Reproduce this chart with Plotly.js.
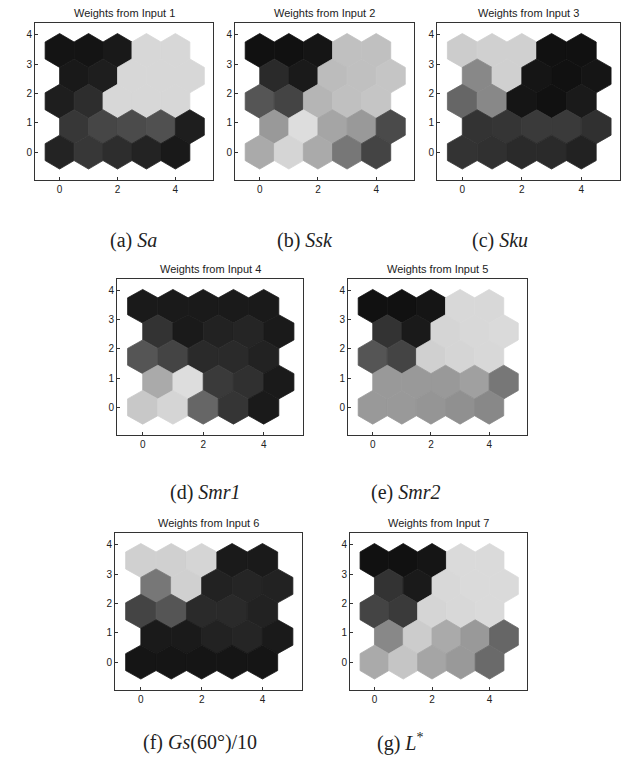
<!DOCTYPE html>
<html><head><meta charset="utf-8">
<script src="https://cdn.plot.ly/plotly-3.0.1.min.js"></script>
<style>body{margin:0;background:#fff}#chart{width:634px;height:758px}</style>
</head><body><div id="chart"></div>
<script>
// Grey level of each SOM neuron (0 = black, 255 = white); rows listed top (row 4) to bottom (row 0)
const panelTitles = ["Weights from Input 1","Weights from Input 2","Weights from Input 3","Weights from Input 4","Weights from Input 5","Weights from Input 6","Weights from Input 7"];
const captions = ["(a) <i>Sa</i>","(b) <i>Ssk</i>","(c) <i>Sku</i>","(d) <i>Smr1</i>","(e) <i>Smr2</i>","(f) <i>Gs</i>(60°)/10","(g) <i>L</i><sup>*</sup>"];
const input1 = [
  [20, 20, 25, 215, 215],
  [25, 30, 215, 215, 215],
  [30, 45, 215, 215, 215],
  [55, 70, 75, 80, 30],
  [35, 55, 45, 35, 25]];
const input2 = [
  [17, 17, 21, 192, 192],
  [42, 26, 188, 192, 197],
  [85, 68, 181, 192, 197],
  [153, 221, 165, 153, 74],
  [170, 213, 170, 119, 68]];
const input3 = [
  [204, 208, 208, 17, 17],
  [136, 208, 21, 17, 21],
  [102, 136, 21, 17, 26],
  [51, 53, 58, 58, 48],
  [51, 48, 42, 42, 34]];
const input4 = [
  [26, 26, 26, 26, 26],
  [51, 26, 34, 37, 26],
  [85, 68, 42, 42, 34],
  [170, 221, 58, 48, 26],
  [200, 213, 102, 53, 26]];
const input5 = [
  [17, 17, 21, 216, 216],
  [51, 26, 213, 216, 218],
  [85, 68, 208, 213, 216],
  [153, 153, 153, 160, 119],
  [153, 153, 149, 144, 136]];
const input6 = [
  [208, 208, 213, 26, 26],
  [119, 208, 34, 37, 34],
  [68, 85, 42, 42, 34],
  [26, 26, 34, 37, 26],
  [21, 21, 21, 21, 21]];
const input7 = [
  [17, 17, 21, 218, 218],
  [51, 26, 216, 218, 218],
  [68, 58, 213, 216, 218],
  [136, 204, 170, 153, 102],
  [170, 197, 165, 153, 106]];
const planes = [input1, input2, input3, input4, input5, input6, input7];
const xTicks = [0, 2, 4];
const yTicks = [-1, 0, 1, 2, 3, 4];

// layout: axes boxes in pixels [left, right, top, bottom]
const W = 634, H = 758;
const boxes = [
  [35, 213, 23, 180],
  [235, 414, 23, 180],
  [437, 620, 23, 180],
  [117, 303, 279, 435],
  [348, 527, 279, 435],
  [115, 302, 533, 690],
  [350, 527, 533, 690]];
const capPos = [[133, 240], [305, 240], [500, 240], [205, 492], [405, 492], [200, 742], [400, 742]];

const traces = [];
const layout = {
  width: W, height: H, margin: {l: 0, r: 0, t: 0, b: 0},
  paper_bgcolor: '#fff', plot_bgcolor: '#fff', showlegend: false,
  annotations: [], font: {family: 'Liberation Sans, Arial, sans-serif', color: '#222'}
};
const r = 1 / Math.sqrt(3);
planes.forEach((plane, p) => {
  const ax = p === 0 ? '' : String(p + 1);
  const nRows = plane.length;
  plane.forEach((row, ri) => {
    const j = nRows - 1 - ri;           // grid row index from bottom
    const cy = j * Math.sqrt(3) / 2;
    row.forEach((g, i) => {
      const cx = i + (j % 2 ? 0.5 : 0);
      const xs = [], ys = [];
      for (let k = 0; k <= 6; k++) {
        const a = (30 + 60 * k) * Math.PI / 180;
        xs.push(cx + r * Math.cos(a)); ys.push(cy + r * Math.sin(a));
      }
      const c = `rgb(${g},${g},${g})`;
      traces.push({type: 'scatter', mode: 'lines', x: xs, y: ys, fill: 'toself',
        fillcolor: c, line: {color: c, width: 0.8},
        hoverinfo: 'skip', xaxis: 'x' + ax, yaxis: 'y' + ax});
    });
  });
  const b = boxes[p];
  const axStyle = {showgrid: false, zeroline: false, showline: true, mirror: true,
    linecolor: '#333', linewidth: 1, ticks: 'inside', ticklen: 3, tickcolor: '#333',
    tickfont: {size: 10, color: '#222'}, fixedrange: true};
  layout['xaxis' + ax] = Object.assign({}, axStyle, {
    domain: [b[0] / W, b[1] / W], range: [-0.85, 5.3], tickvals: xTicks,
    anchor: 'y' + ax});
  layout['yaxis' + ax] = Object.assign({}, axStyle, {
    domain: [1 - b[3] / H, 1 - b[2] / H], range: [-0.95, 4.4], tickvals: yTicks,
    anchor: 'x' + ax});
  layout.annotations.push({text: panelTitles[p], xref: 'paper', yref: 'paper',
    x: (b[0] + b[1]) / 2 / W, y: 1 - (b[2] - 2) / H, xanchor: 'center', yanchor: 'bottom',
    showarrow: false, font: {size: 11, color: '#222'}});
  layout.annotations.push({text: captions[p], xref: 'paper', yref: 'paper',
    x: capPos[p][0] / W, y: 1 - capPos[p][1] / H, xanchor: 'center', yanchor: 'middle',
    showarrow: false, font: {size: 20, family: 'Liberation Serif, Times New Roman, serif', color: '#222'}});
});
Plotly.newPlot('chart', traces, layout, {displayModeBar: false, staticPlot: true});
</script></body></html>
